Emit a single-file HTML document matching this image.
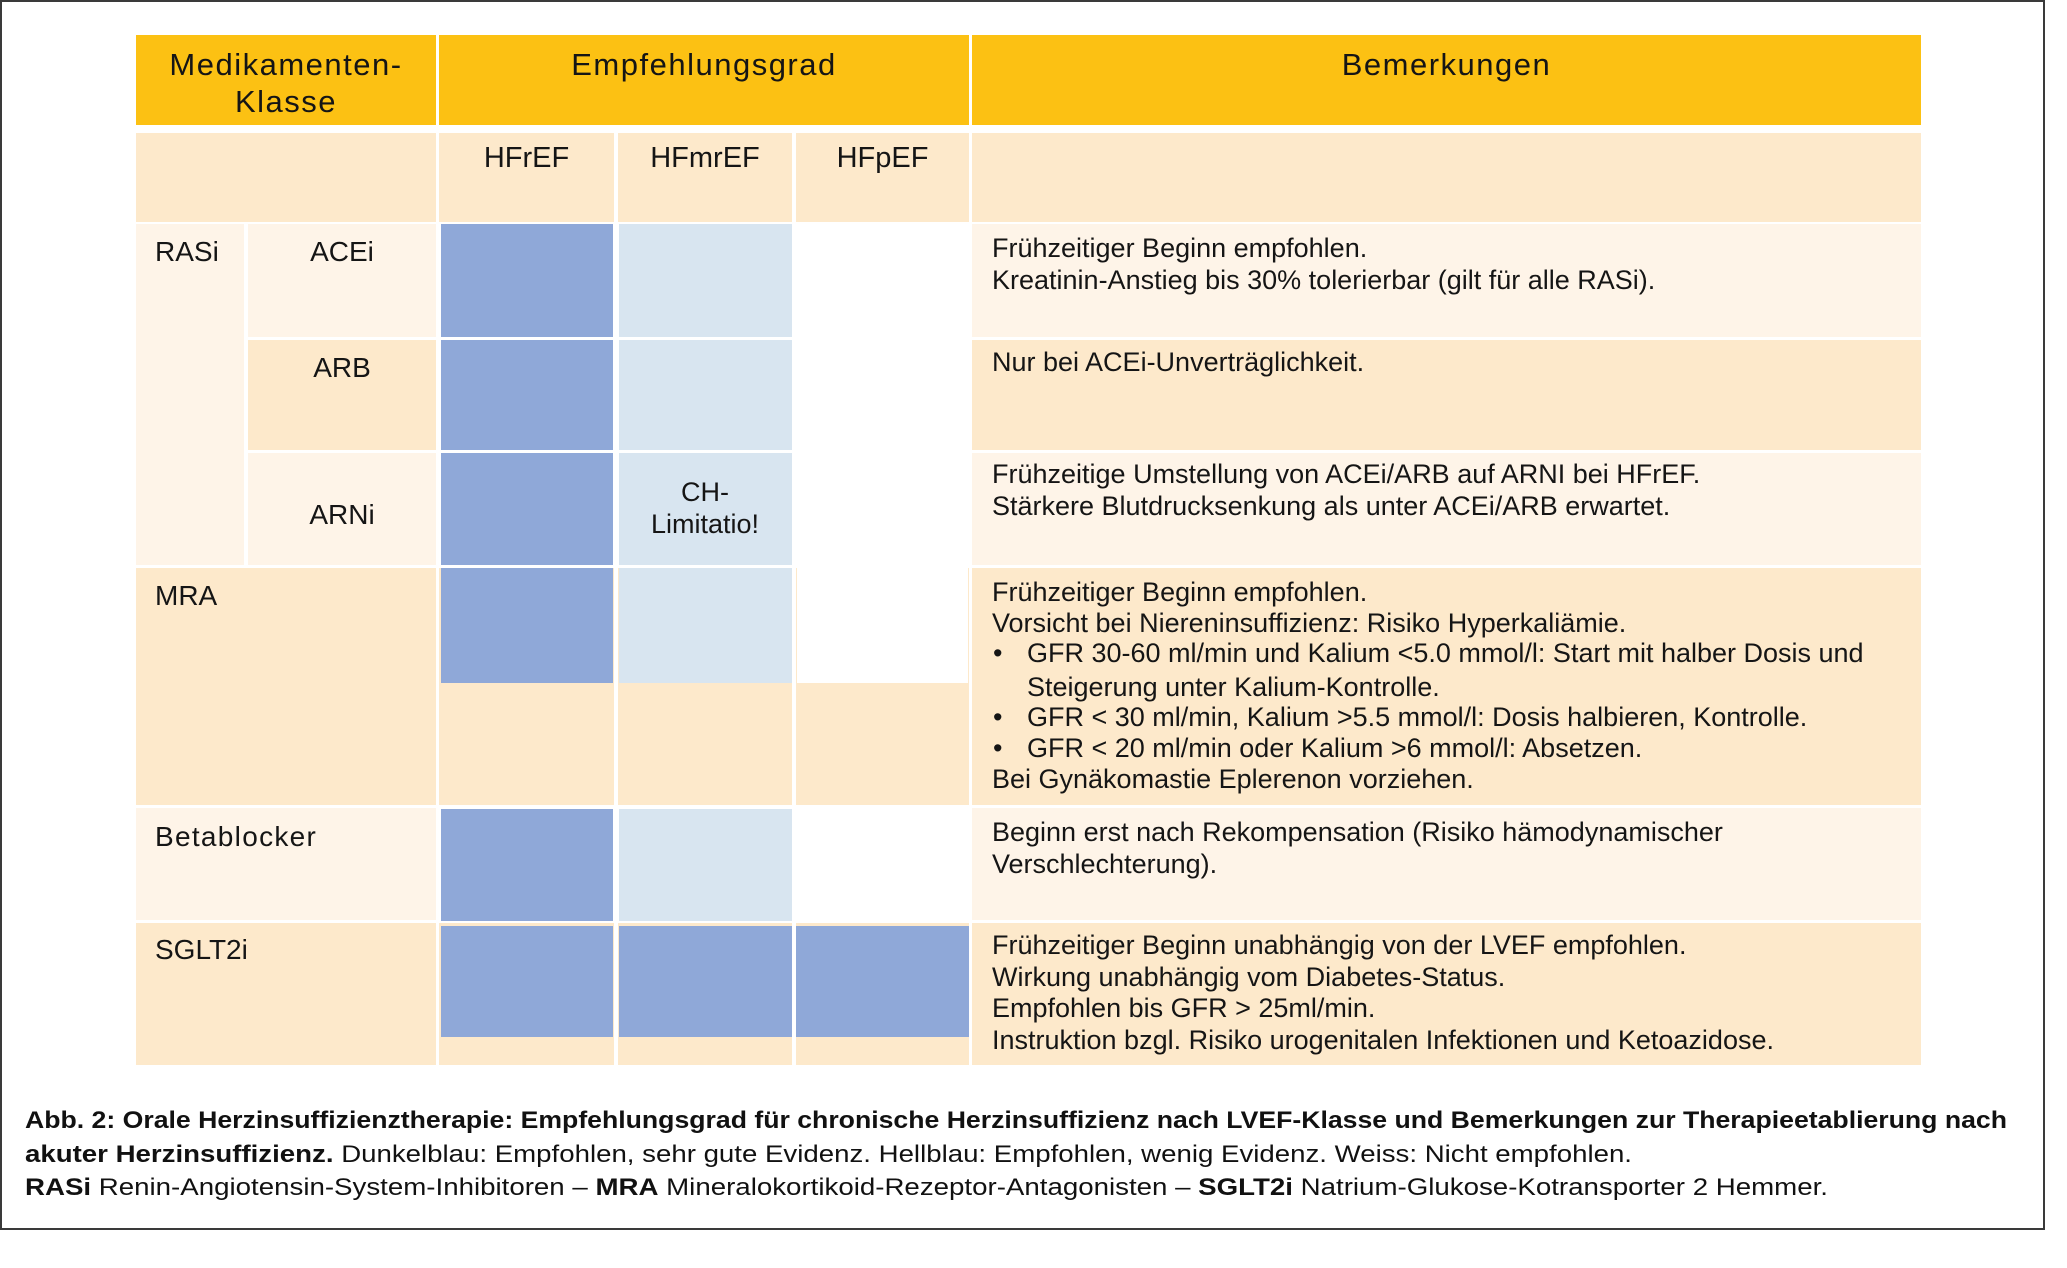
<!DOCTYPE html>
<html>
<head>
<meta charset="utf-8">
<style>
  html,body{margin:0;padding:0;background:#fff;}
  body{width:2067px;height:1268px;position:relative;overflow:hidden;font-family:"Liberation Sans",Arial,sans-serif;color:#151515;}
  .c{position:absolute;box-sizing:border-box;}
  .y{background:#FCC113;}
  .d{background:#FDE9CB;}
  .l{background:#FEF4E8;}
  .b{background:#8FA8D8;}
  .lb{background:#D8E5F0;}
  .w{background:#ffffff;}
  .t{position:absolute;white-space:nowrap;}
  .hd{font-size:31px;line-height:37px;letter-spacing:1.5px;text-align:center;}
  .sh{font-size:29px;line-height:34px;text-align:center;}
  .lab{font-size:28px;line-height:34px;}
  .cm{font-size:27px;line-height:31.5px;left:992px;}
  .bl{position:relative;padding-left:35px;}
  .bl span{position:absolute;left:1px;top:0;}
</style>
</head>
<body>
<!-- frame -->
<div class="c" style="left:0;top:0;width:2045px;height:1230px;border:2px solid #3a3a3a;"></div>

<!-- header row -->
<div class="c y" style="left:136px;top:35px;width:300px;height:90px;"></div>
<div class="c y" style="left:439px;top:35px;width:530px;height:90px;"></div>
<div class="c y" style="left:972px;top:35px;width:949px;height:90px;"></div>
<div class="t hd" style="left:136px;top:46px;width:300px;">Medikamenten-<br>Klasse</div>
<div class="t hd" style="left:439px;top:46px;width:530px;">Empfehlungsgrad</div>
<div class="t hd" style="left:972px;top:46px;width:949px;">Bemerkungen</div>

<!-- subheader row -->
<div class="c d" style="left:136px;top:133px;width:300px;height:89px;"></div>
<div class="c d" style="left:439px;top:133px;width:175px;height:89px;"></div>
<div class="c d" style="left:618px;top:133px;width:174px;height:89px;"></div>
<div class="c d" style="left:796px;top:133px;width:173px;height:89px;"></div>
<div class="c d" style="left:972px;top:133px;width:949px;height:89px;"></div>
<div class="t sh" style="left:439px;top:141px;width:175px;">HFrEF</div>
<div class="t sh" style="left:618px;top:141px;width:174px;">HFmrEF</div>
<div class="t sh" style="left:796px;top:141px;width:173px;">HFpEF</div>

<!-- left column -->
<div class="c l" style="left:136px;top:224px;width:108px;height:341px;"></div>
<div class="c l" style="left:248px;top:224px;width:188px;height:113px;"></div>
<div class="c d" style="left:248px;top:340px;width:188px;height:110px;"></div>
<div class="c l" style="left:248px;top:453px;width:188px;height:112px;"></div>
<div class="c d" style="left:136px;top:568px;width:300px;height:237px;"></div>
<div class="c l" style="left:136px;top:808px;width:300px;height:112px;"></div>
<div class="c d" style="left:136px;top:923px;width:300px;height:142px;"></div>

<div class="t lab" style="left:155px;top:235px;">RASi</div>
<div class="t lab" style="left:248px;top:235px;width:188px;text-align:center;">ACEi</div>
<div class="t lab" style="left:248px;top:351px;width:188px;text-align:center;">ARB</div>
<div class="t lab" style="left:248px;top:498px;width:188px;text-align:center;">ARNi</div>
<div class="t lab" style="left:155px;top:579px;">MRA</div>
<div class="t lab" style="left:155px;top:820px;letter-spacing:1.3px;">Betablocker</div>
<div class="t lab" style="left:155px;top:933px;">SGLT2i</div>

<!-- HFrEF column -->
<div class="c b" style="left:441px;top:224px;width:172px;height:113px;"></div>
<div class="c b" style="left:441px;top:340px;width:172px;height:110px;"></div>
<div class="c b" style="left:441px;top:453px;width:172px;height:112px;"></div>
<div class="c d" style="left:439px;top:568px;width:175px;height:237px;"></div>
<div class="c b" style="left:441px;top:568px;width:172px;height:115px;"></div>
<div class="c b" style="left:441px;top:809px;width:172px;height:112px;"></div>
<div class="c d" style="left:439px;top:923px;width:175px;height:142px;"></div>
<div class="c b" style="left:441px;top:926px;width:172px;height:111px;"></div>

<!-- HFmrEF column -->
<div class="c lb" style="left:619px;top:224px;width:173px;height:113px;"></div>
<div class="c lb" style="left:619px;top:340px;width:173px;height:110px;"></div>
<div class="c lb" style="left:619px;top:453px;width:173px;height:112px;"></div>
<div class="c d" style="left:618px;top:568px;width:174px;height:237px;"></div>
<div class="c lb" style="left:619px;top:568px;width:173px;height:115px;"></div>
<div class="c lb" style="left:619px;top:809px;width:173px;height:112px;"></div>
<div class="c d" style="left:618px;top:923px;width:174px;height:142px;"></div>
<div class="c b" style="left:619px;top:926px;width:173px;height:111px;"></div>
<div class="t" style="left:618px;top:476px;width:174px;text-align:center;font-size:27px;line-height:32px;">CH-<br>Limitatio!</div>

<!-- HFpEF column -->
<div class="c d" style="left:796px;top:568px;width:173px;height:237px;"></div>
<div class="c w" style="left:797px;top:568px;width:171px;height:115px;"></div>
<div class="c d" style="left:796px;top:923px;width:173px;height:142px;"></div>
<div class="c b" style="left:796px;top:926px;width:173px;height:111px;"></div>

<!-- Bemerkungen column -->
<div class="c l" style="left:972px;top:224px;width:949px;height:113px;"></div>
<div class="c d" style="left:972px;top:340px;width:949px;height:110px;"></div>
<div class="c l" style="left:972px;top:453px;width:949px;height:112px;"></div>
<div class="c d" style="left:972px;top:568px;width:949px;height:237px;"></div>
<div class="c l" style="left:972px;top:808px;width:949px;height:112px;"></div>
<div class="c d" style="left:972px;top:923px;width:949px;height:142px;"></div>

<div class="t cm" style="top:233px;">Frühzeitiger Beginn empfohlen.<br>Kreatinin-Anstieg bis 30% tolerierbar (gilt für alle RASi).</div>
<div class="t cm" style="top:347px;">Nur bei ACEi-Unverträglichkeit.</div>
<div class="t cm" style="top:459px;">Frühzeitige Umstellung von ACEi/ARB auf ARNI bei HFrEF.<br>Stärkere Blutdrucksenkung als unter ACEi/ARB erwartet.</div>
<div class="t cm" style="top:577px;line-height:30.6px;">
  <div>Frühzeitiger Beginn empfohlen.</div>
  <div>Vorsicht bei Niereninsuffizienz: Risiko Hyperkaliämie.</div>
  <div class="bl"><span>•</span>GFR 30-60 ml/min und Kalium &lt;5.0 mmol/l: Start mit halber Dosis und</div>
  <div class="bl" style="margin-top:3px;">Steigerung unter Kalium-Kontrolle.</div>
  <div class="bl"><span>•</span>GFR &lt; 30 ml/min, Kalium &gt;5.5 mmol/l: Dosis halbieren, Kontrolle.</div>
  <div class="bl"><span>•</span>GFR &lt; 20 ml/min oder Kalium &gt;6 mmol/l: Absetzen.</div>
  <div>Bei Gynäkomastie Eplerenon vorziehen.</div>
</div>
<div class="t cm" style="top:817px;">Beginn erst nach Rekompensation (Risiko hämodynamischer<br>Verschlechterung).</div>
<div class="t cm" style="top:930px;">Frühzeitiger Beginn unabhängig von der LVEF empfohlen.<br>Wirkung unabhängig vom Diabetes-Status.<br>Empfohlen bis GFR &gt; 25ml/min.<br>Instruktion bzgl. Risiko urogenitalen Infektionen und Ketoazidose.</div>

<!-- caption -->
<svg style="position:absolute;left:0;top:0;" width="2067" height="1268" xmlns="http://www.w3.org/2000/svg">
  <g font-family="Liberation Sans, Arial, sans-serif" font-size="24" fill="#111">
    <text x="25" y="1128" font-weight="bold" textLength="1982" lengthAdjust="spacingAndGlyphs">Abb. 2: Orale Herzinsuffizienztherapie: Empfehlungsgrad für chronische Herzinsuffizienz nach LVEF-Klasse und Bemerkungen zur Therapieetablierung nach</text>
    <text x="25" y="1162" textLength="1607" lengthAdjust="spacingAndGlyphs"><tspan font-weight="bold">akuter Herzinsuffizienz.</tspan> Dunkelblau: Empfohlen, sehr gute Evidenz. Hellblau: Empfohlen, wenig Evidenz. Weiss: Nicht empfohlen.</text>
    <text x="25" y="1195" textLength="1803" lengthAdjust="spacingAndGlyphs"><tspan font-weight="bold">RASi</tspan> Renin-Angiotensin-System-Inhibitoren – <tspan font-weight="bold">MRA</tspan> Mineralokortikoid-Rezeptor-Antagonisten – <tspan font-weight="bold">SGLT2i</tspan> Natrium-Glukose-Kotransporter 2 Hemmer.</text>
  </g>
</svg>
</body>
</html>
